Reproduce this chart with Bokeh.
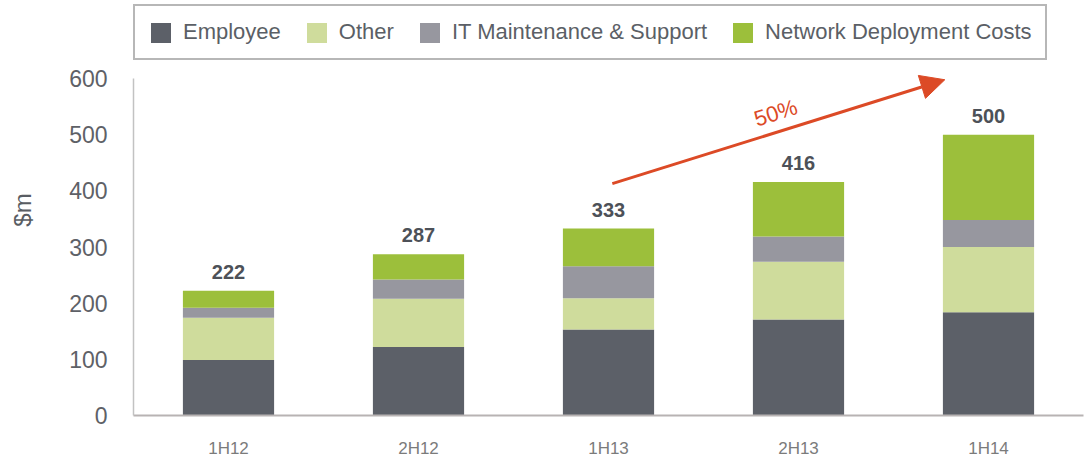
from bokeh.plotting import figure
from bokeh.models import (Range1d, Legend, LegendItem, Arrow, NormalHead,
                          Label, LabelSet, ColumnDataSource, FixedTicker)
from bokeh.core.properties import value
from bokeh.embed import file_html
from bokeh.resources import INLINE

# ---- data ----
periods = ["1H12", "2H12", "1H13", "2H13", "1H14"]
employee = [99, 122, 153, 171, 184]
other = [75, 86, 56, 103, 116]
it_support = [18, 34, 57, 45, 48]
network = [30, 45, 67, 97, 152]
totals = [222, 287, 333, 416, 500]
series_names = ["Employee", "Other", "IT Maintenance & Support", "Network Deployment Costs"]
series_keys = ["employee", "other", "it_support", "network"]
colors = ["#5c6068", "#cfdc9c", "#97979f", "#9cbf3b"]
y_ticks = [0, 100, 200, 300, 400, 500, 600]
growth_label = "50%"

FONT = "Liberation Sans"
Y_AXIS_MAX = 600
Y_VIEW_TOP = 732   # extra room above the axis for the legend

xpos = [i + 0.5 for i in range(len(periods))]
source = ColumnDataSource(dict(x=xpos, period=periods, employee=employee, other=other,
                               it_support=it_support, network=network,
                               total=totals, total_label=[str(t) for t in totals]))

p = figure(x_range=Range1d(0, len(periods)), y_range=Range1d(0, Y_VIEW_TOP),
           width=1086, height=460, output_backend="svg", toolbar_location=None,
           min_border_left=133, min_border_right=3, min_border_top=4, min_border_bottom=45)
p.title.visible = False

renderers = p.vbar_stack(series_keys, x="x", width=0.48, color=colors,
                         line_width=0, source=source)

# totals above bars
labels = LabelSet(x="x", y="total", text="total_label", source=source,
                  y_offset=12, text_align="center", text_baseline="alphabetic",
                  text_font=value(FONT), text_font_size="20px", text_font_style="bold",
                  text_color="#4d5158")
p.add_layout(labels)

# growth arrow
arrow = Arrow(x_start=2.52, y_start=413, x_end=4.27, y_end=598,
              line_color="#dc4a26", line_width=3,
              end=NormalHead(size=24, fill_color="#dc4a26", line_color="#dc4a26"))
p.add_layout(arrow)
growth = Label(x=3.38, y=539, text=growth_label, angle=17.5,
               angle_units="deg", text_align="center", text_baseline="middle",
               text_font=FONT, text_font_size="22px", text_color="#dc4a26")
p.add_layout(growth)

# legend
legend = Legend(items=[LegendItem(label=n, renderers=[r]) for n, r in zip(series_names, renderers)],
                orientation="horizontal", location=(0, 355), margin=0,
                padding=13, spacing=23, label_standoff=10,
                glyph_width=25, glyph_height=25,
                label_text_font=FONT, label_text_font_size="22px",
                label_text_color="#5b5f66",
                border_line_color="#6f6f6f", border_line_width=2,
                background_fill_color="white", background_fill_alpha=1)
p.add_layout(legend)

# axes
p.yaxis.ticker = y_ticks
p.yaxis.bounds = (0, Y_AXIS_MAX)
p.yaxis.axis_label = "$m"
p.yaxis.axis_label_text_font = FONT
p.yaxis.axis_label_text_font_size = "24px"
p.yaxis.axis_label_text_font_style = "normal"
p.yaxis.axis_label_text_color = "#595d63"
p.yaxis.axis_label_standoff = 30
p.yaxis.major_label_text_font = FONT
p.yaxis.major_label_text_font_size = "23px"
p.yaxis.major_label_text_color = "#5e6167"
p.yaxis.major_label_standoff = 20
p.yaxis.major_tick_line_color = None
p.yaxis.minor_tick_line_color = None
p.yaxis.axis_line_color = "#c2c2c2"
p.yaxis.axis_line_width = 1.5

p.xaxis.ticker = FixedTicker(ticks=xpos)
p.xaxis.major_label_overrides = {x: lab for x, lab in zip(xpos, periods)}
p.xaxis.major_label_text_font = FONT
p.xaxis.major_label_text_font_size = "17px"
p.xaxis.major_label_text_color = "#7b7b7b"
p.xaxis.major_label_standoff = 17
p.xaxis.major_tick_line_color = None
p.xaxis.minor_tick_line_color = None
p.xaxis.axis_line_color = "#b8b3b3"
p.xaxis.axis_line_width = 2

p.xgrid.grid_line_color = None
p.ygrid.grid_line_color = None
p.outline_line_color = None

open("out.html", "w").write(file_html(p, INLINE))
